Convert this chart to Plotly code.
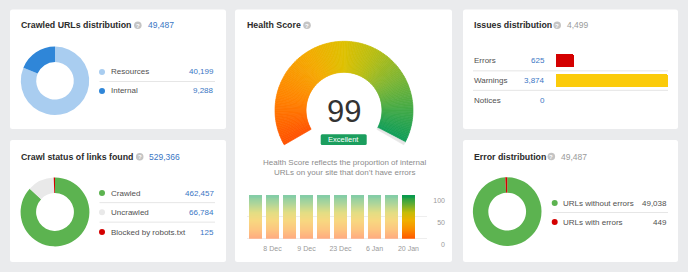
import plotly.graph_objects as go

# ---------------- data ----------------
crawled_total = "49,487"
crawled_cats = ["Resources", "Internal"]
crawled_vals = [40199, 9288]
crawled_colors = ["#a9cdf0", "#2f86d8"]

links_total = "529,366"
links_cats = ["Crawled", "Uncrawled", "Blocked by robots.txt"]
links_vals = [462457, 66784, 125]
links_colors = ["#5cb350", "#e9e9e9", "#d40000"]

health_score = 99
health_label = "Excellent"
health_caption = ["Health Score reflects the proportion of internal",
                  "URLs on your site that don\u2019t have errors"]
history_scores = [99, 99, 99, 99, 99, 99, 99, 99, 99, 99]
history_ticks = ["", "8 Dec", "", "9 Dec", "", "23 Dec", "", "6 Jan", "", "20 Jan"]
history_yticks = [0, 50, 100]

issues_total = "4,499"
issue_cats = ["Errors", "Warnings", "Notices"]
issue_vals = [625, 3874, 0]
issue_colors = ["#d40000", "#fbcb0a", "#cccccc"]

err_total = "49,487"
err_cats = ["URLs without errors", "URLs with errors"]
err_vals = [49038, 449]
err_colors = ["#5cb350", "#d40000"]

# ---------------- helpers ----------------
W, H = 688, 272
def fx(x): return x / W
def fy(y): return 1 - y / H

BG = "#eaebed"
BLUE = "#3a76c4"
GRAY = "#9a9a9a"
TITLE = "#2b2b2b"
TEXT = "#505050"
FONT = "Liberation Sans, Arial, Helvetica, sans-serif"

def hex2rgb(h):
    h = h.lstrip("#")
    return tuple(int(h[i:i + 2], 16) for i in (0, 2, 4))

def interp(stops, t):
    for (t0, c0), (t1, c1) in zip(stops[:-1], stops[1:]):
        if t <= t1:
            a = 0 if t1 == t0 else (t - t0) / (t1 - t0)
            r0, r1 = hex2rgb(c0), hex2rgb(c1)
            return tuple(r0[i] + (r1[i] - r0[i]) * a for i in range(3))
    return hex2rgb(stops[-1][1])

def rgb(c, fade=0.0):
    c = [v + (255 - v) * fade for v in c]
    return "rgb(%d,%d,%d)" % tuple(round(v) for v in c)

shapes, annots = [], []

def rrect(x0, y0, x1, y1, r, color, layer="below"):
    X0, X1, Y0, Y1 = fx(x0), fx(x1), fy(y0), fy(y1)
    rx, ry = r / W, r / H
    p = (f"M {X0+rx},{Y0} L {X1-rx},{Y0} Q {X1},{Y0} {X1},{Y0-ry} "
         f"L {X1},{Y1+ry} Q {X1},{Y1} {X1-rx},{Y1} L {X0+rx},{Y1} "
         f"Q {X0},{Y1} {X0},{Y1+ry} L {X0},{Y0-ry} Q {X0},{Y0} {X0+rx},{Y0} Z")
    shapes.append(dict(type="path", path=p, xref="paper", yref="paper",
                       fillcolor=color, line=dict(width=0), layer=layer))

def circle(cx, cy, r, color):
    shapes.append(dict(type="circle", xref="paper", yref="paper",
                       x0=fx(cx - r), x1=fx(cx + r), y0=fy(cy + r), y1=fy(cy - r),
                       fillcolor=color, line=dict(width=0)))

def hline(x0, x1, y, color="#e6e6e6"):
    shapes.append(dict(type="line", xref="paper", yref="paper", x0=fx(x0), x1=fx(x1),
                       y0=fy(y), y1=fy(y), line=dict(color=color, width=1)))

def text(x, y, s, size=8, color=TEXT, anchor="left", bold=False):
    annots.append(dict(x=fx(x), y=fy(y), xref="paper", yref="paper", text=s,
                       showarrow=False, xanchor=anchor, yanchor="middle",
                       font=dict(family=FONT, size=size, color=color,
                                 weight="bold" if bold else "normal")))

def qicon(cx, cy):
    circle(cx, cy, 3.8, "#c4c4c4")
    text(cx, cy + 0.3, "?", size=6, color="#ffffff", anchor="center", bold=True)

def title(x, y, s, icon_x, num_x, num, num_color):
    text(x - 1, y, s, size=8.8, color=TITLE, bold=True)
    qicon(icon_x, y)
    text(num_x - 1, y, num, size=8.5, color=num_color)

# ---------------- cards ----------------
for (x0, y0, x1, y1) in [(10, 9.5, 226, 129), (10, 140, 226, 262), (235, 9.5, 452, 262),
                         (463, 9.5, 678, 129), (463, 140, 678, 262)]:
    rrect(x0, y0, x1, y1, 2.5, "#ffffff")

fig = go.Figure()

def donut(vals, colors, cx, cy, r, hole=0.55, min_share=0.0):
    tot = sum(vals)
    disp = [max(v, tot * min_share) for v in vals]
    fig.add_trace(go.Pie(values=disp, marker=dict(colors=colors, line=dict(width=0)),
                         hole=hole, sort=False, direction="clockwise", rotation=0,
                         textinfo="none", hoverinfo="skip", showlegend=False,
                         domain=dict(x=[fx(cx - r), fx(cx + r)], y=[fy(cy + r), fy(cy - r)])))

def legend(rows_y, cats, vals, colors, dot_x, val_x, sep_x0, val_color):
    for i, (y, c, v, col) in enumerate(zip(rows_y, cats, vals, colors)):
        circle(dot_x, y, 3, col)
        text(dot_x + 6.5, y, c, size=8, color=TEXT)
        text(val_x + 1, y, f"{v:,}", size=8, color=val_color, anchor="right")
        if i < len(cats) - 1:
            hline(sep_x0, val_x, (y + rows_y[i + 1]) / 2)

# card 1
title(20, 25.3, "Crawled URLs distribution", 137.8, 146.5, crawled_total, BLUE)
donut(crawled_vals, crawled_colors, 55, 80.8, 34.2)
legend([72, 91], crawled_cats, crawled_vals, crawled_colors, 102, 215, 99.5, BLUE)

# card 2
title(20, 156.7, "Crawl status of links found", 139.7, 148.3, links_total, BLUE)
donut(links_vals, links_colors, 55, 212, 34.4, min_share=0.006)
legend([193, 212.3, 232], links_cats, links_vals, links_colors, 102, 215, 99.5, BLUE)

# card 5 (error distribution)
title(473, 156.5, "Error distribution", 551.3, 560.3, err_total, GRAY)
donut(err_vals, err_colors, 507.2, 211.6, 34.3)
legend([203, 222], err_cats, err_vals, err_colors, 554.7, 668, 552.5, TEXT)

# card 4 (issues)
title(473, 25.3, "Issues distribution", 557.2, 565.7, issues_total, GRAY)
issue_rows = [61, 80.7, 100]
for i, (y, c, v) in enumerate(zip(issue_rows, issue_cats, issue_vals)):
    text(472, y, c, size=8, color=TEXT)
    text(546.5, y, f"{v:,}", size=8, color=BLUE, anchor="right")
    if i < len(issue_cats) - 1:
        hline(473, 668, (y + issue_rows[i + 1]) / 2)

fig.add_trace(go.Bar(x=issue_vals, y=list(range(len(issue_vals))), orientation="h",
                     marker=dict(color=issue_colors, line=dict(width=0), cornerradius=2),
                     width=0.68, xaxis="x2", yaxis="y2", hoverinfo="skip", showlegend=False))

# ---------------- health score gauge ----------------
text(245, 25.3, "Health Score", size=8.8, color=TITLE, bold=True)
qicon(307, 25.3)

gauge_stops = [(0.0, "#ff5000"), (0.18, "#ff8400"), (0.36, "#f4aa00"), (0.5, "#dec000"),
               (0.62, "#b6bd14"), (0.75, "#7db534"), (0.88, "#3fa948"), (1.0, "#0a9c5a")]
N = 160
span = 240.0
seg_vals, seg_cols = [], []
filled = span * health_score / 100
for k in range(N):
    seg_vals.append(filled / N)
    seg_cols.append(rgb(interp(gauge_stops, (k + 0.5) / N * health_score / 100)))
seg_vals += [span - filled, 360 - span]
seg_cols += ["#e6e6e6", "rgba(0,0,0,0)"]
gcx, gcy, gr = 344, 110.3, 69
fig.add_trace(go.Pie(values=seg_vals, sort=False, direction="clockwise", rotation=240,
                     marker=dict(colors=seg_cols, line=dict(width=0.7, color=seg_cols)),
                     hole=0.55, textinfo="none", hoverinfo="skip", showlegend=False,
                     domain=dict(x=[fx(gcx - gr), fx(gcx + gr)], y=[fy(gcy + gr), fy(gcy - gr)])))

text(344, 111, str(health_score), size=31, color="#333333", anchor="center")
rrect(320.7, 134.3, 366.7, 145, 1.5, "#1b9e5e", layer="above")
text(343.7, 139.8, health_label, size=7.5, color="#ffffff", anchor="center")
text(344, 162.7, health_caption[0], size=8, color="#8c8c8c", anchor="center")
text(344, 172.3, health_caption[1], size=8, color="#8c8c8c", anchor="center")

# history bars with vertical gradient (segments drawn bottom-up, overlapping)
bar_stops = [(0.0, "#ff5500"), (0.22, "#fa8e00"), (0.42, "#f0b000"), (0.6, "#c6bc08"),
             (0.8, "#5fac34"), (1.0, "#06994e")]
K = 44
bx, bbase, by, bcol = [], [], [], []
last = len(history_scores) - 1
for i, v in enumerate(history_scores):
    fade = 0.0 if i == last else 0.5
    for k in range(K):
        b = v * k / K
        bx.append(i)
        bbase.append(b)
        by.append(v - b)
        bcol.append(rgb(interp(bar_stops, (k + 0.5) / K), fade))
fig.add_trace(go.Bar(x=bx, y=by, base=bbase, width=0.82,
                     marker=dict(color=bcol, line=dict(width=0)),
                     xaxis="x", yaxis="y", hoverinfo="skip", showlegend=False))

fig.update_layout(
    width=W, height=H, margin=dict(l=0, r=0, t=0, b=0, autoexpand=False),
    paper_bgcolor=BG, plot_bgcolor="rgba(0,0,0,0)",
    barmode="overlay", bargap=0, shapes=shapes, annotations=annots,
    font=dict(family=FONT),
    xaxis=dict(domain=[fx(247), fx(427)], range=[-0.5, 10.09], showgrid=False,
               zeroline=False, tickmode="array", tickvals=list(range(len(history_ticks))),
               ticktext=history_ticks, ticks="", ticklabelstandoff=4,
               tickfont=dict(size=7, color="#9a9a9a"), fixedrange=True),
    yaxis=dict(domain=[fy(238.7), fy(195)], range=[0, 100], tickmode="array",
               tickvals=history_yticks, gridcolor="#eeeeee", zeroline=True,
               zerolinecolor="#eeeeee", zerolinewidth=1, anchor="free", position=fx(445),
               side="left", ticks="", ticklabelshift=6,
               tickfont=dict(size=7, color="#9a9a9a"), fixedrange=True),
    xaxis2=dict(domain=[fx(556), fx(668)], range=[0, max(issue_vals)], visible=False,
                anchor="y2"),
    yaxis2=dict(domain=[fy(109.75), fy(51.25)], range=[2.5, -0.5], visible=False,
                anchor="x2"),
)

fig.write_html("out.html")
